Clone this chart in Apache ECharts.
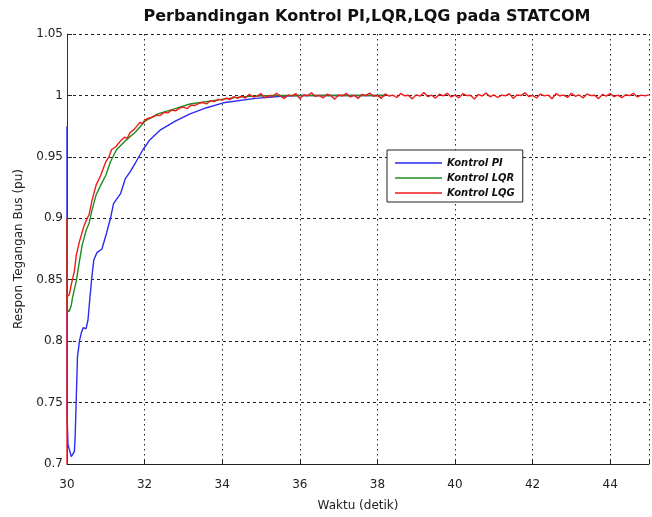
<!DOCTYPE html>
<html>
<head>
<meta charset="utf-8">
<script src="https://cdn.jsdelivr.net/npm/echarts@6/dist/echarts.min.js"></script>
<style>
  html, body { margin: 0; padding: 0; background: #fff; }
  #chart { width: 652px; height: 517px; }
</style>
</head>
<body>
<div id="chart"></div>
<script>
// Tick labels
const xTickLabels = ['30', '32', '34', '36', '38', '40', '42', '44'];
const yTickLabels = ['0.7', '0.75', '0.8', '0.85', '0.9', '0.95', '1', '1.05'];

// Kontrol PI: [time, voltage]
const piData = [
  [30.0, 0.975], [30.0, 0.742], [30.025, 0.716], [30.11, 0.706], [30.19, 0.710],
  [30.21, 0.722], [30.24, 0.755], [30.27, 0.787], [30.32, 0.800], [30.37, 0.807],
  [30.42, 0.811], [30.49, 0.810], [30.54, 0.817], [30.59, 0.835], [30.64, 0.852],
  [30.69, 0.866], [30.77, 0.872], [30.90, 0.875], [31.02, 0.888], [31.12, 0.900],
  [31.20, 0.912], [31.38, 0.920], [31.50, 0.932], [31.63, 0.938], [31.78, 0.946],
  [31.96, 0.956], [32.14, 0.964], [32.41, 0.972], [32.79, 0.979], [33.17, 0.985],
  [33.60, 0.990], [34.03, 0.994], [34.86, 0.9976], [35.62, 0.9995], [36.03, 1.0],
  [38.2, 1.0]
];

// Kontrol LQR: [time, voltage]
const lqrData = [
  [30.0, 0.900], [30.0, 0.826], [30.05, 0.824], [30.11, 0.829], [30.14, 0.835],
  [30.24, 0.849], [30.32, 0.865], [30.39, 0.878], [30.49, 0.890], [30.57, 0.896],
  [30.64, 0.906], [30.75, 0.919], [30.87, 0.927], [31.0, 0.935], [31.12, 0.946],
  [31.28, 0.956], [31.50, 0.963], [31.76, 0.970], [32.01, 0.979], [32.34, 0.985],
  [32.77, 0.989], [33.17, 0.993], [34.03, 0.997], [34.54, 0.999], [35.3, 1.0],
  [38.2, 1.0]
];

// Kontrol LQG: transient start [time, voltage]
const lqgHead = [
  [30.0, 0.900], [30.0, 0.700], [30.005, 0.836], [30.06, 0.838], [30.11, 0.846],
  [30.19, 0.857], [30.24, 0.870], [30.32, 0.881], [30.44, 0.894], [30.52, 0.900],
  [30.57, 0.903], [30.64, 0.914], [30.75, 0.927], [30.87, 0.935], [31.0, 0.946],
  [31.08, 0.950], [31.15, 0.956], [31.25, 0.958], [31.38, 0.963], [31.48, 0.966],
  [31.55, 0.965], [31.63, 0.970], [31.72, 0.972], [31.80, 0.975], [31.88, 0.978],
  [31.95, 0.977]
];

// Kontrol LQG: sampled every 0.1 s from 32.0 s
const lqgStart = 32.0;
const lqgStep = 0.1;
const lqgTail = [
  0.9800, 0.9815, 0.9822, 0.9840, 0.9836, 0.9862, 0.9858, 0.9881, 0.9874, 0.9897,
  0.9905, 0.9893, 0.9921, 0.9918, 0.9935, 0.9942, 0.9931, 0.9958, 0.9950, 0.9968,
  0.9962, 0.9979, 0.9966, 0.9990, 0.9976, 0.9995, 0.9978, 1.0010, 0.9987, 0.9994,
  1.0014, 0.9982, 0.9999, 0.9991, 1.0018, 0.9995, 0.9976, 1.0004, 0.9996, 1.0015,
  0.9972, 1.0003, 0.9997, 1.0022, 0.9992, 1.0001, 0.9980, 1.0010, 0.9998, 0.9970,
  1.0004, 0.9996, 1.0016, 0.9988, 1.0002, 0.9975, 1.0008, 0.9999, 1.0020, 0.9993,
  1.0000, 0.9976, 1.0012, 0.9995, 1.0003, 0.9983, 1.0016, 0.9997, 1.0001, 0.9972,
  1.0005, 0.9994, 1.0024, 0.9990, 1.0002, 0.9978, 1.0010, 0.9996, 1.0017, 0.9988,
  1.0003, 0.9980, 1.0014, 0.9998, 1.0001, 0.9970, 1.0008, 0.9995, 1.0019, 0.9989,
  1.0004, 0.9983, 1.0002, 0.9997, 1.0015, 0.9976, 1.0005, 0.9999, 1.0021, 0.9991,
  1.0001, 0.9979, 1.0011, 0.9996, 1.0003, 0.9972, 1.0014, 0.9997, 1.0002, 0.9984,
  1.0017, 0.9993, 1.0004, 0.9980, 1.0012, 0.9998, 1.0001, 0.9974, 1.0008, 0.9995,
  1.0016, 0.9990, 1.0003, 0.9982, 1.0006, 0.9998, 1.0018, 0.9988, 1.0002, 0.9996,
  1.0004
];

const lqgData = lqgHead.concat(
  lqgTail.map((v, i) => [+(lqgStart + i * lqgStep).toFixed(2), v])
);

const chart = echarts.init(document.getElementById('chart'), null, { renderer: 'canvas' });

const FONT = '"DejaVu Sans", sans-serif';

const makeLine = (name, data, color) => ({
  name,
  type: 'line',
  data,
  symbol: 'none',
  showSymbol: false,
  animation: false,
  clip: true,
  lineStyle: { color, width: 1.4 },
  itemStyle: { color },
  z: 3
});

chart.setOption({
  animation: false,
  backgroundColor: '#ffffff',
  title: {
    text: 'Perbandingan Kontrol PI,LQR,LQG pada STATCOM',
    left: 362,
    textAlign: 'center',
    top: 4,
    textStyle: { fontFamily: FONT, fontWeight: 'bold', fontSize: 16, color: '#111' }
  },
  grid: { left: 67, right: -9, top: 34, bottom: 49, containLabel: false },
  legend: {
    left: 387,
    top: 150,
    orient: 'vertical',
    icon: 'rect',
    itemWidth: 47,
    itemHeight: 1.5,
    itemGap: 5,
    padding: [8, 8, 4, 8],
    backgroundColor: '#ffffff',
    borderColor: '#222',
    borderWidth: 1,
    borderRadius: 0,
    textStyle: { fontFamily: FONT, fontWeight: 'bold', fontStyle: 'italic', fontSize: 10, color: '#111' },
    data: ['Kontrol PI', 'Kontrol LQR', 'Kontrol LQG']
  },
  xAxis: {
    type: 'value',
    min: 30,
    max: 45,
    interval: 2,
    name: 'Waktu (detik)',
    nameLocation: 'middle',
    nameGap: 36,
    nameTextStyle: { fontFamily: FONT, fontSize: 12, color: '#222' },
    axisLine: { show: true, onZero: false, lineStyle: { color: '#222', width: 1 } },
    axisTick: { show: true, inside: true, length: 5, lineStyle: { color: '#222' } },
    axisLabel: {
      fontFamily: FONT, fontSize: 12, color: '#222', margin: 15,
      formatter: v => xTickLabels[Math.round((v - 30) / 2)] ?? ''
    },
    splitLine: { show: true, lineStyle: { color: '#222', type: [1.5, 3.5], width: 1 } }
  },
  yAxis: {
    type: 'value',
    min: 0.7,
    max: 1.05,
    interval: 0.05,
    name: 'Respon Tegangan Bus (pu)',
    nameLocation: 'middle',
    nameGap: 42,
    nameRotate: 90,
    nameTextStyle: { fontFamily: FONT, fontSize: 12, color: '#222' },
    axisLine: { show: true, lineStyle: { color: '#333', width: 1 } },
    axisTick: { show: true, inside: true, length: 5, lineStyle: { color: '#222' } },
    axisLabel: {
      fontFamily: FONT, fontSize: 12, color: '#222', margin: 4,
      formatter: v => yTickLabels[Math.round((v - 0.7) / 0.05)] ?? ''
    },
    splitLine: { show: true, lineStyle: { color: '#222', type: [3, 3], width: 1 } }
  },
  series: [
    makeLine('Kontrol PI', piData, '#2b2bf0'),
    makeLine('Kontrol LQR', lqrData, '#1e8c1e'),
    makeLine('Kontrol LQG', lqgData, '#f01a1a')
  ]
});
</script>
</body>
</html>
